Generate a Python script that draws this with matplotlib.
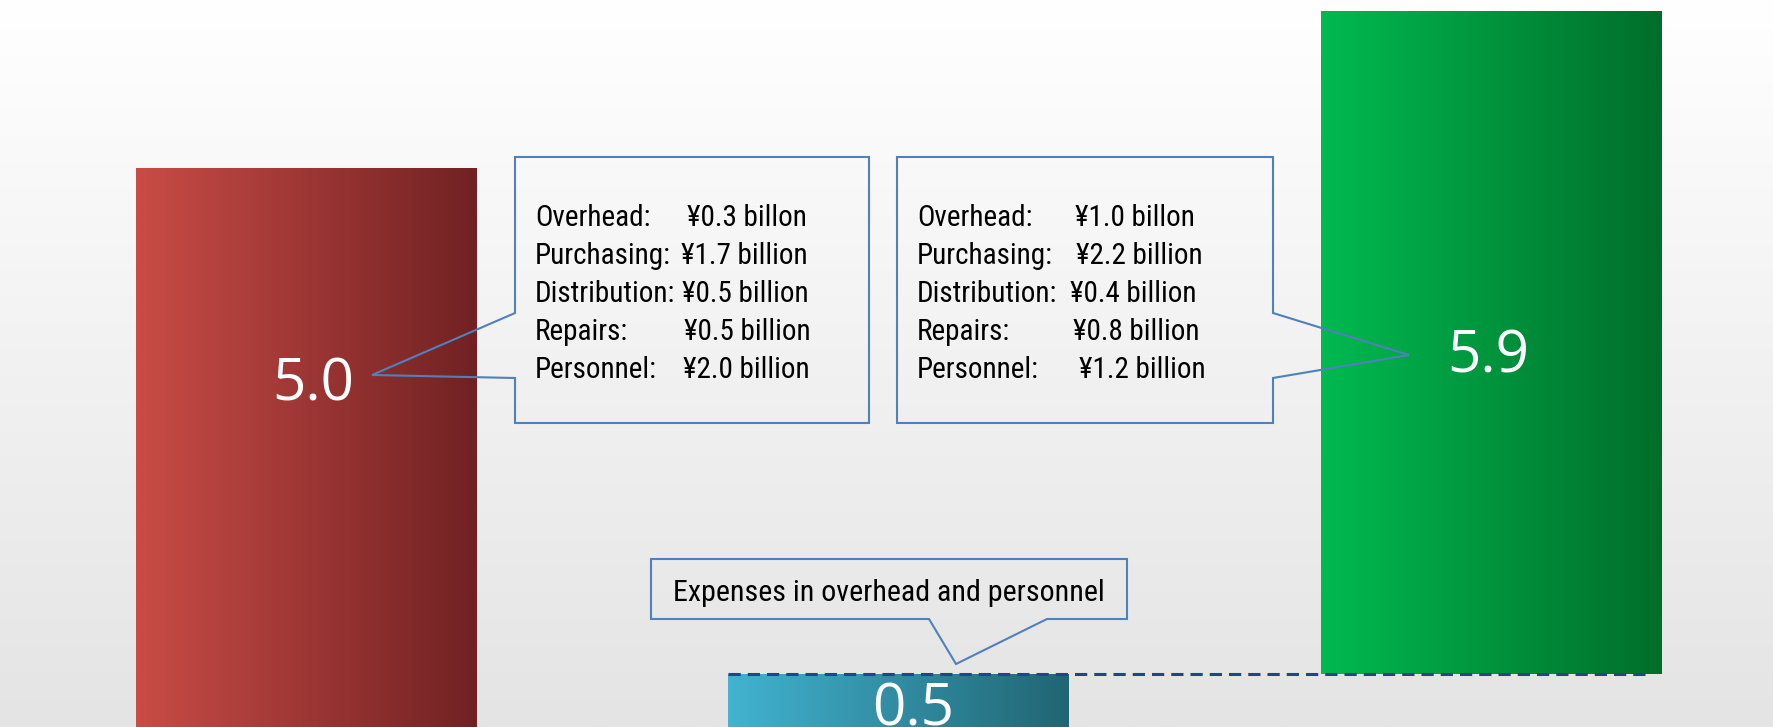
import matplotlib
matplotlib.use('Agg')
import matplotlib.pyplot as plt
import numpy as np
from matplotlib import font_manager
from matplotlib.colors import LinearSegmentedColormap
from matplotlib.patches import Polygon
from matplotlib.transforms import Affine2D

# ---------------- data ----------------
categories = ['Last period', 'Increase', 'This period']
values = [5.0, 0.5, 5.9]
value_labels = ['5.0', '0.5', '5.9']

box_labels = ['Overhead:', 'Purchasing:', 'Distribution:', 'Repairs:', 'Personnel:']
left_amounts = ['¥0.3 billon', '¥1.7 billion', '¥0.5 billion', '¥0.5 billion', '¥2.0 billion']
right_amounts = ['¥1.0 billon', '¥2.2 billion', '¥0.4 billion', '¥0.8 billion', '¥1.2 billion']
note_text = 'Expenses in overhead and personnel'

# ---------------- style ----------------
bar_colors = [('#C94C46', '#712123'), ('#42B3D1', '#216573'), ('#00BA50', '#006E2A')]
callout_color = '#4F81BD'
dash_color = '#1F497D'
left_amount_x = [687, 681, 682, 684, 683]
right_amount_x = [1075, 1076, 1070, 1073, 1079]

def pick(cands):
    for c in cands:
        try:
            font_manager.findfont(font_manager.FontProperties(family=c), fallback_to_default=False)
            return c
        except Exception:
            pass
    return 'DejaVu Sans'

narrow_font = pick(['Liberation Sans Narrow', 'Arial Narrow', 'Roboto Condensed', 'DejaVu Sans'])
num_font = pick(['Open Sans', 'Noto Sans', 'DejaVu Sans'])

W, H = 1773, 727
fig = plt.figure(figsize=(W / 100, H / 100), dpi=100)

# background gradient
bg = fig.add_axes([0, 0, 1, 1], zorder=-5)
grad_v = np.linspace(0, 1, 256).reshape(-1, 1)
bg_cmap = LinearSegmentedColormap.from_list('bg', ['#FFFFFF', '#E4E4E4'])
bg.imshow(grad_v, cmap=bg_cmap, aspect='auto', extent=[0, 1, 0, 1], origin='upper')
bg.set_axis_off()

ax = fig.add_axes([0, 0, 1, 1])
ax.patch.set_alpha(0)
ax.set_axis_off()

x = np.arange(len(values))
width = 0.574
bottoms = [0, 0, values[1]]
bars = ax.bar(x, values, width=width, bottom=bottoms, color='none', edgecolor='none')
grad_h = np.linspace(0, 1, 256).reshape(1, -1)
for bar, (c1, c2) in zip(bars, bar_colors):
    cmap = LinearSegmentedColormap.from_list('g', [c1, c2])
    bx, by = bar.get_x(), bar.get_y()
    bw, bh = bar.get_width(), bar.get_height()
    im = ax.imshow(grad_h, cmap=cmap, extent=[bx, bx + bw, by, by + bh],
                   aspect='auto', zorder=2, interpolation='bilinear')
    im.set_clip_path(bar)

# value labels (baseline positions as fractions of bar height)
label_frac = [0.587, 0.092, 0.4537]
label_dx = [0.012, 0.024, -0.004]
for xi, b, v, t, f, dx in zip(x, bottoms, values, value_labels, label_frac, label_dx):
    ax.text(xi + dx, b + v * f, t, color='white', fontsize=42, family=num_font,
            ha='center', va='baseline', zorder=4)

# dashed connector at top of increase bar
ax.hlines(values[1], x[1] - width / 2, x[2] + width / 2 - 0.015,
          colors=dash_color, linewidth=2.2, linestyles=(0, (4, 2.3)), zorder=5)

ax.set_xlim(-0.5165, 2.476)
ax.set_ylim(0.0285, 6.494)

# pixel transform (image coords, origin top-left)
pix = Affine2D().scale(1 / W, -1 / H).translate(0, 1) + fig.transFigure

def callout(pts):
    p = Polygon(pts, closed=True, fill=False, edgecolor=callout_color,
                linewidth=1.5, transform=pix, zorder=6)
    fig.add_artist(p)

callout([(515, 157), (869, 157), (869, 423), (515, 423), (515, 378), (372, 375), (515, 313)])
callout([(897, 157), (1273, 157), (1273, 313), (1409, 355), (1273, 378), (1273, 423), (897, 423)])
callout([(651, 559), (1127, 559), (1127, 619), (1047, 619), (956, 664), (929, 619), (651, 619)])

fs = 21
for i, (lab, la, ra) in enumerate(zip(box_labels, left_amounts, right_amounts)):
    yb = 226 + 38 * i
    fig.text(535, yb, lab, transform=pix, family=narrow_font, fontsize=fs, va='baseline', ha='left', color='black')
    fig.text(left_amount_x[i], yb, la, transform=pix, family=narrow_font, fontsize=fs, va='baseline', ha='left', color='black')
    fig.text(917, yb, lab, transform=pix, family=narrow_font, fontsize=fs, va='baseline', ha='left', color='black')
    fig.text(right_amount_x[i], yb, ra, transform=pix, family=narrow_font, fontsize=fs, va='baseline', ha='left', color='black')

fig.text(889, 601, note_text, transform=pix, family=narrow_font, fontsize=21.6,
         va='baseline', ha='center', color='black')

fig.savefig('out.png', dpi=100)
